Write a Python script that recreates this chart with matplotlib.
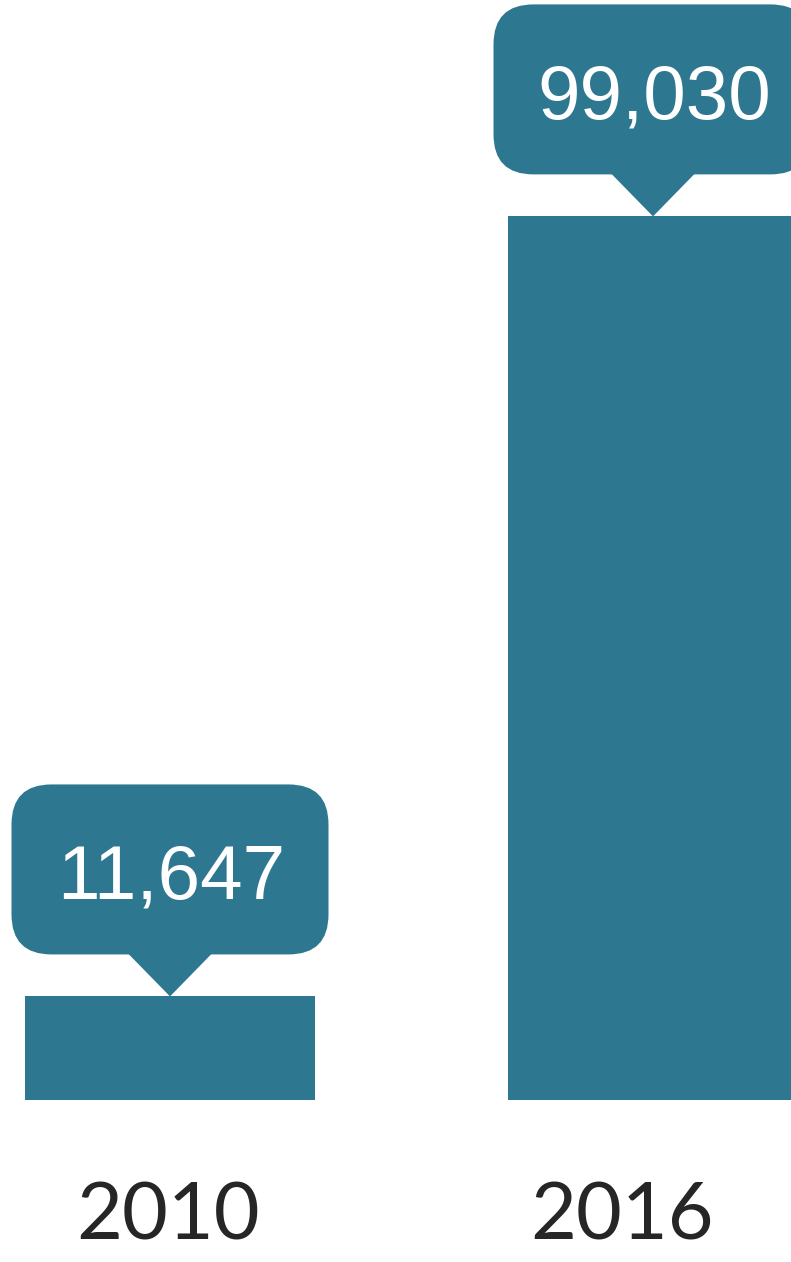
import matplotlib
matplotlib.use("Agg")
import matplotlib.pyplot as plt
import matplotlib.transforms as mtransforms
from matplotlib.patches import FancyBboxPatch, Polygon

# ---- data ----
years = ["2010", "2016"]
values = [11647, 99030]
value_labels = ["11,647", "99,030"]

# ---- styling ----
BAR_COLOR = "#2D7890"
TEXT_DARK = "#262626"
W_PX, H_PX, DPI = 791, 1262, 100

fig = plt.figure(figsize=(W_PX / DPI, H_PX / DPI), dpi=DPI)
ax = fig.add_axes([0, 0, 1, 1])

# scale: bar positions 483 px apart, 884 px for the largest value
px_per_x = 483.0
px_per_val = 884.0 / max(values)
zero_px = 1100.4          # pixel row (from top) of the baseline
first_center_px = 170.0   # pixel column of first bar centre

ax.set_xlim(-first_center_px / px_per_x, (W_PX - first_center_px) / px_per_x)
ax.set_ylim(-(H_PX - zero_px) / px_per_val, zero_px / px_per_val)
ax.axis("off")

xs = list(range(len(values)))
bar_width = 290.0 / px_per_x
ax.bar(xs, values, width=bar_width, color=BAR_COLOR, zorder=2)

# ---- callouts (geometry in pixels, anchored at bar top) ----
box_w, box_h, box_gap, radius = 317.0, 170.0, 42.0, 40.0
ptr_half = 42.0
txt_base = 98.0

for i, (x, v, lab) in enumerate(zip(xs, values, value_labels)):
    tr = fig.dpi_scale_trans + mtransforms.ScaledTranslation(x, v, ax.transData)
    dx = -1.0 if i == 1 else 0.0
    box = FancyBboxPatch(((-box_w / 2 + dx) / DPI, box_gap / DPI),
                         box_w / DPI, box_h / DPI,
                         boxstyle=f"round,pad=0,rounding_size={radius / DPI}",
                         transform=tr, facecolor=BAR_COLOR, edgecolor="none",
                         zorder=3, clip_on=False)
    ax.add_patch(box)
    tri = Polygon([(-ptr_half / DPI, (box_gap + 1) / DPI),
                   (ptr_half / DPI, (box_gap + 1) / DPI),
                   (0, 0)], closed=True, transform=tr,
                  facecolor=BAR_COLOR, edgecolor="none", zorder=3, clip_on=False)
    ax.add_patch(tri)
    ax.text(0.015, txt_base / DPI, lab, transform=tr, ha="center", va="baseline",
            color="white", fontsize=55, family=["Liberation Sans", "DejaVu Sans"],
            zorder=4)

# ---- year labels ----
label_offsets_px = [-1.5, -31.0]
year_base_px = 1239.0
for x, yr, off in zip(xs, years, label_offsets_px):
    ax.text(x + off / px_per_x, (zero_px - year_base_px) / px_per_val, yr,
            ha="center", va="baseline", color=TEXT_DARK, fontsize=57,
            family=["Lato", "DejaVu Sans"])

fig.savefig("out.png", dpi=DPI)
